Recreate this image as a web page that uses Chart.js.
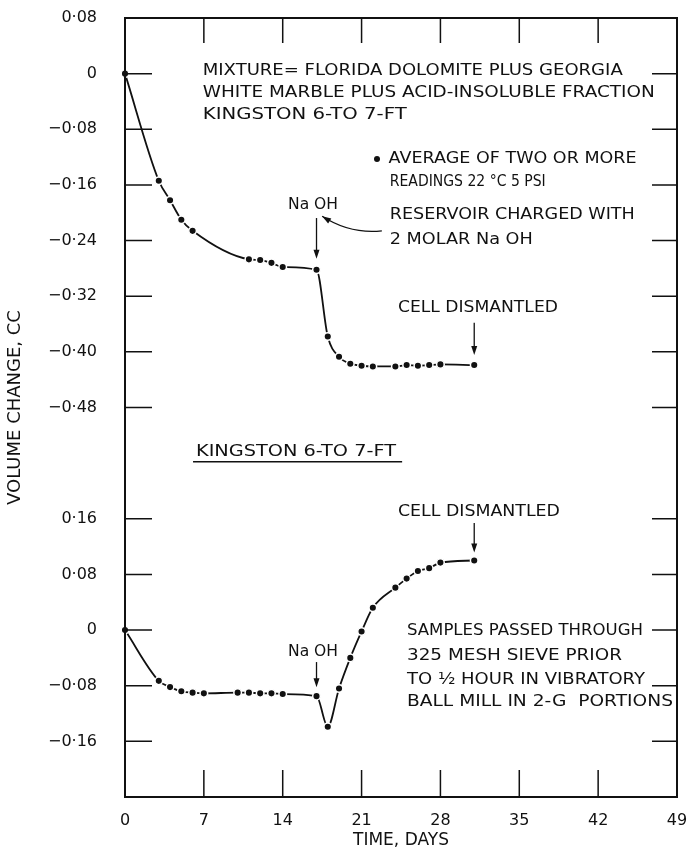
<!DOCTYPE html>
<html>
<head>
<meta charset="utf-8">
<script src="https://cdn.jsdelivr.net/npm/chart.js@4.4.1/dist/chart.umd.min.js"></script>
<style>
html,body{margin:0;padding:0;background:#fff;}
canvas{display:block;}
</style>
</head>
<body>
<canvas id="grafico" width="689" height="859"></canvas>
<script>
// upper curve: dolomite + marble + insoluble fraction
const diasSup=[0,3,4,5,6,11,12,13,14,17,18,19,20,21,22,24,25,26,27,28,31];
const volumeSup=[0,-0.154,-0.182,-0.210,-0.226,-0.267,-0.268,-0.272,-0.278,-0.282,
-0.378,-0.407,-0.417,-0.420,-0.421,-0.421,-0.419,-0.420,-0.419,-0.418,-0.419];

// lower curve: ball-milled samples
const diasInf=[0,3,4,5,6,7,10,11,12,13,14,17,18,19,20,21,22,24,25,26,27,28,31];
const volumeInf=[0,-0.073,-0.082,-0.088,-0.090,-0.091,-0.090,-0.090,-0.091,-0.091,-0.092,
-0.095,-0.139,-0.084,-0.040,-0.002,0.032,0.061,0.074,0.085,0.089,0.097,0.100];

const ticksSup=[0.08,0,-0.08,-0.16,-0.24,-0.32,-0.40,-0.48];
const ticksInf=[0.16,0.08,0,-0.08,-0.16];

// both panels share one frame: the lower one is the upper axis shifted by 0.8
const faixaSup=[-1.04,0.08];
const faixaInf=[-0.24,0.88];
const DESLOC=faixaInf[1]-faixaSup[1];

const TINTA="#111";
const FONTE="'DejaVu Sans'";

function rotulo(v){
if(Math.abs(v)<1e-9) return "0";
return (v<0?"\u2212":"")+Math.abs(v).toFixed(2).replace(".","\u00b7");
}
const rotulosY=[...ticksSup,...ticksInf].map(rotulo);

function textoAjustado(ctx,txt,x,y,largura){
let w=ctx.measureText(txt).width;
ctx.save();
ctx.translate(x,y);
ctx.scale(largura/w,1);
ctx.fillText(txt,0,0);
ctx.restore();
}

function seta(ctx,x,y1,y2){
ctx.beginPath();
ctx.moveTo(x,y1);
ctx.lineTo(x,y2-6);
ctx.stroke();
ctx.beginPath();
ctx.moveTo(x,y2);
ctx.lineTo(x-3,y2-9);
ctx.lineTo(x+3,y2-9);
ctx.closePath();
ctx.fill();
}

const anotacoes={
id:"anotacoes",
afterDraw(chart){
const ctx=chart.ctx,a=chart.chartArea;
const X=v=>chart.scales.x.getPixelForValue(v);
const Y=v=>chart.scales.y.getPixelForValue(v);
const Y2=v=>chart.scales.y2.getPixelForValue(v);

ctx.save();
ctx.strokeStyle=TINTA;
ctx.fillStyle=TINTA;

// frame
ctx.lineWidth=2;
ctx.strokeRect(a.left,a.top,a.right-a.left,a.bottom-a.top);

// inward tick marks on all four sides
ctx.lineWidth=1.5;
ctx.beginPath();
[7,14,21,28,35,42].forEach(d=>{
let x=X(d);
ctx.moveTo(x,a.top);ctx.lineTo(x,a.top+25);
ctx.moveTo(x,a.bottom);ctx.lineTo(x,a.bottom-27);
});
ticksSup.slice(1).map(Y).concat(ticksInf.map(Y2)).forEach(y=>{
ctx.moveTo(a.left,y);ctx.lineTo(a.left+27,y);
ctx.moveTo(a.right,y);ctx.lineTo(a.right-25,y);
});
ctx.stroke();

ctx.font="16px "+FONTE;
ctx.textBaseline="middle";
ctx.textAlign="left";

// upper panel notes
textoAjustado(ctx,"MIXTURE= FLORIDA DOLOMITE PLUS GEORGIA",X(6.9),Y(0.004),420);
textoAjustado(ctx,"WHITE MARBLE PLUS ACID-INSOLUBLE FRACTION",X(6.9),Y(-0.027),452);
textoAjustado(ctx,"KINGSTON 6-TO 7-FT",X(6.9),Y(-0.0595),204);

ctx.beginPath();
ctx.arc(X(22.37),Y(-0.1227),3,0,Math.PI*2);
ctx.fill();
textoAjustado(ctx,"AVERAGE OF TWO OR MORE",X(23.4),Y(-0.1227),248);
textoAjustado(ctx,"READINGS 22 \u00b0C 5 PSI",X(23.5),Y(-0.1558),156);
textoAjustado(ctx,"RESERVOIR CHARGED WITH",X(23.5),Y(-0.2032),245);
textoAjustado(ctx,"2 MOLAR Na OH",X(23.5),Y(-0.2392),143);

// NaOH added, upper curve
let i=diasSup.indexOf(17);
textoAjustado(ctx,"Na OH",X(14.47),Y(-0.189),50);
ctx.lineWidth=1.3;
seta(ctx,X(diasSup[i]),Y(-0.2076),Y(volumeSup[i])-11);

// curved pointer from reservoir note
let x0=X(22.8),y0=Y(-0.226),xc=X(20),yc=Y(-0.231),x1=X(17.5),y1=Y(-0.205);
ctx.beginPath();
ctx.moveTo(x0,y0);
ctx.quadraticCurveTo(xc,yc,x1,y1);
ctx.stroke();
let ang=Math.atan2(y1-yc,x1-xc);
ctx.beginPath();
ctx.moveTo(x1,y1);
ctx.lineTo(x1-9*Math.cos(ang)+3*Math.sin(ang),y1-9*Math.sin(ang)-3*Math.cos(ang));
ctx.lineTo(x1-9*Math.cos(ang)-3*Math.sin(ang),y1-9*Math.sin(ang)+3*Math.cos(ang));
ctx.closePath();
ctx.fill();

// cell dismantled, upper
let f=diasSup.length-1;
textoAjustado(ctx,"CELL DISMANTLED",X(24.23),Y(-0.337),160);
seta(ctx,X(diasSup[f]),Y(-0.358),Y(volumeSup[f])-10);

// lower panel heading
textoAjustado(ctx,"KINGSTON 6-TO 7-FT",X(6.3),Y(-0.544),200);
ctx.lineWidth=1.3;
ctx.beginPath();
ctx.moveTo(X(6.04),Y(-0.558));
ctx.lineTo(X(24.6),Y(-0.558));
ctx.stroke();

// cell dismantled, lower
let g=diasInf.length-1;
textoAjustado(ctx,"CELL DISMANTLED",X(24.23),Y2(0.1697),162);
seta(ctx,X(diasInf[g]),Y2(0.154),Y2(volumeInf[g])-8);

// NaOH added, lower curve
let k=diasInf.indexOf(17);
textoAjustado(ctx,"Na OH",X(14.47),Y2(-0.0316),50);
seta(ctx,X(diasInf[k]),Y2(-0.046),Y2(volumeInf[k])-9);

textoAjustado(ctx,"SAMPLES PASSED THROUGH",X(25.03),Y2(-0.0014),236);
textoAjustado(ctx,"325 MESH SIEVE PRIOR",X(25.03),Y2(-0.0373),215);
textoAjustado(ctx,"TO \u00bd HOUR IN VIBRATORY",X(25.03),Y2(-0.0718),238);
textoAjustado(ctx,"BALL MILL IN 2-G  PORTIONS",X(25.03),Y2(-0.1035),266);

ctx.restore();
}
};

const estiloCurva={
borderColor:TINTA,
borderWidth:1.8,
pointRadius:3.8,
pointBackgroundColor:TINTA,
pointBorderColor:"#fff",
pointBorderWidth:1.5,
cubicInterpolationMode:"monotone",
clip:false
};

new Chart(document.getElementById("grafico"),{
type:"line",
data:{
datasets:[
{...estiloCurva,label:"superior",yAxisID:"y",
data:diasSup.map((d,j)=>({x:d,y:volumeSup[j]}))},
{...estiloCurva,label:"inferior",yAxisID:"y2",
data:diasInf.map((d,j)=>({x:d,y:volumeInf[j]}))}
]
},
options:{
responsive:false,
animation:false,
devicePixelRatio:1,
layout:{padding:{top:18,right:12,left:0,bottom:0}},
plugins:{legend:{display:false},tooltip:{enabled:false}},
scales:{
x:{
type:"linear",
min:0,max:49,
ticks:{stepSize:7,color:TINTA,font:{family:FONTE,size:16},padding:14,maxRotation:0,autoSkip:false},
grid:{display:false,drawTicks:false},
border:{display:false},
title:{display:true,text:"TIME, DAYS",color:TINTA,font:{family:FONTE,size:17},padding:{top:0,bottom:8}},
afterFit:s=>{s.height=62;s.paddingLeft=0;s.paddingRight=0;}
},
y:{
min:faixaSup[0],max:faixaSup[1],
afterBuildTicks:s=>{
s.ticks=[...ticksSup.map(v=>({value:v})),...ticksInf.map(v=>({value:v-DESLOC}))];
},
ticks:{
callback:(v,i)=>rotulosY[i],
color:TINTA,font:{family:FONTE,size:16},padding:28,autoSkip:false
},
grid:{display:false,drawTicks:false},
border:{display:false},
title:{display:true,text:"VOLUME CHANGE, CC",color:TINTA,font:{family:FONTE,size:18},padding:{top:5,bottom:0}},
afterFit:s=>{s.width=125;s.paddingTop=0;s.paddingBottom=0;}
},
y2:{
display:false,
min:faixaInf[0],max:faixaInf[1]
}
}
},
plugins:[anotacoes]
});
</script>
</body>
</html>
